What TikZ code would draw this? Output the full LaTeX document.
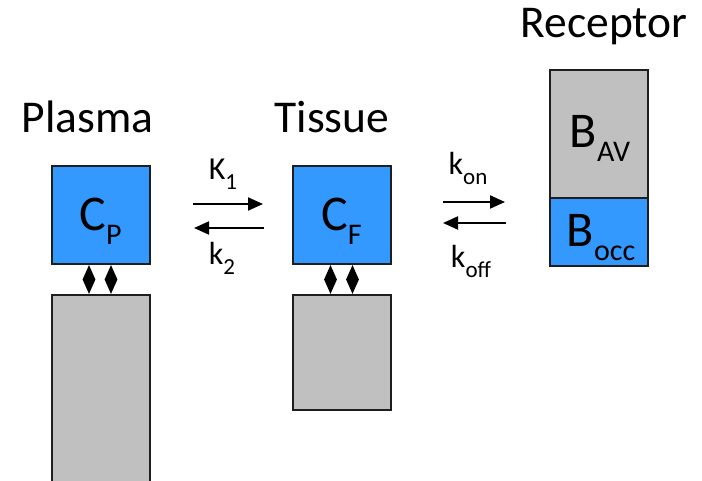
\documentclass[tikz,border=0pt]{standalone}
\usepackage{fontspec}
\setmainfont{Carlito}
\usetikzlibrary{shapes.geometric,arrows.meta}
\definecolor{boxblue}{RGB}{51,153,255}
\definecolor{boxgray}{RGB}{192,192,192}
\definecolor{edge}{RGB}{30,30,30}
\newcommand{\bigtxt}[2]{{\fontsize{50}{54}\selectfont #1}{\fontsize{30}{32}\selectfont\raisebox{-14pt}{#2}}}
\newcommand{\ratetxt}[2]{{\fontsize{32}{36}\selectfont #1}{\fontsize{23}{26}\selectfont\raisebox{-10pt}{#2}}}
\tikzset{
  boxbase/.style={draw=edge, line width=2pt, inner sep=0pt, minimum width=98pt},
  bluebox/.style={boxbase, fill=boxblue},
  graybox/.style={boxbase, fill=boxgray},
  title/.style={anchor=base, inner sep=0pt, font=\fontsize{45.5}{50}\selectfont},
  lbl/.style={anchor=base, inner sep=0pt},
  link/.style={diamond, fill=black, draw=none, inner sep=0pt, minimum width=13pt, minimum height=29pt},
  rate/.style={line width=2pt, -{Triangle[length=15pt,width=13pt]}},
}
\begin{document}
\begin{tikzpicture}[x=1pt,y=-1pt]
\useasboundingbox (0,0) rectangle (702,481);
\clip (0,0) rectangle (702,481);
% titles
\node[title] (tp) at (87.5,133) {Plasma};
\node[title] (tt) at (332,133) {Tissue};
\node[title] (tr) at (604,38) {Receptor};
% boxes
\node[bluebox, minimum height=98pt] (cp) at (100.5,215.5) {};
\node[graybox, minimum height=220pt, anchor=north] (pg) at (100.5,294.5) {};
\node[bluebox, minimum height=98pt] (cf) at (341.5,215.5) {};
\node[graybox, minimum height=114pt, anchor=north] (tg) at (341.5,294.5) {};
\node[graybox, minimum height=128pt, anchor=north] (bav) at (598.5,69) {};
\node[bluebox, minimum height=68pt, anchor=north] (bocc) at (598.5,197) {};
% box labels
\node[lbl] (lcp) at (100.5,231) {\bigtxt{C}{P}};
\node[lbl] (lcf) at (341.5,231) {\bigtxt{C}{F}};
\node[lbl] (lbav) at (600,148) {\bigtxt{B}{AV}};
\node[lbl] (lbocc) at (601,247) {\bigtxt{B}{occ}};
% diamonds
\node[link] (d1) at (89,279.5) {};
\node[link] (d2) at (111,279.5) {};
\node[link] (d3) at (330.5,279.5) {};
\node[link] (d4) at (352.5,279.5) {};
% rate arrows
\coordinate (a1s) at (193,204);
\coordinate (a1e) at (263,204);
\coordinate (a2s) at (264,228);
\coordinate (a2e) at (194,228);
\coordinate (a3s) at (443,202);
\coordinate (a3e) at (505,202);
\coordinate (a4s) at (506,223);
\coordinate (a4e) at (443,223);
\draw[rate] (a1s) -- (a1e);
\draw[rate] (a2s) -- (a2e);
\draw[rate] (a3s) -- (a3e);
\draw[rate] (a4s) -- (a4e);
% rate labels
\node[lbl] (k1) at (223,180) {\ratetxt{K}{1}};
\node[lbl] (k2) at (222,265) {\ratetxt{k}{2}};
\node[lbl] (kon) at (468,175) {\ratetxt{k}{on}};
\node[lbl] (koff) at (471,268) {\ratetxt{k}{off}};
\end{tikzpicture}
\end{document}
